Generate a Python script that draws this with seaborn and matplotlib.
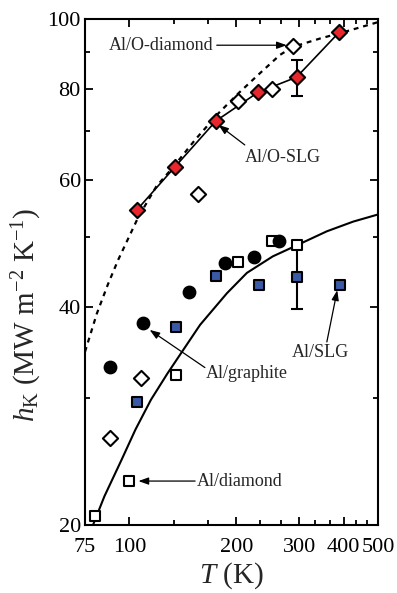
import numpy as np
import pandas as pd
import matplotlib
matplotlib.use("Agg")
import matplotlib.pyplot as plt
import seaborn as sns

# ---------------- data ----------------
# Al/O-SLG (red filled diamonds, connected)
t_o_slg = [105, 134, 175, 230, 295, 389]
h_o_slg = [54.5, 62.4, 72.3, 79.2, 83.1, 95.9]
err_o_slg_T = [295]
err_o_slg_h = [83.1]
err_o_slg_e = [4.7]

# Al/O-diamond (open diamonds)
t_o_dia = [88, 108, 156, 202, 251, 288]
h_o_dia = [26.4, 31.9, 57.3, 77.1, 80.0, 91.9]

# Al/graphite (black circles)
t_graph = [88, 109, 147, 186, 224, 264]
h_graph = [33.1, 38.0, 41.9, 46.0, 46.9, 49.4]

# Al/SLG (blue squares)
t_slg = [105, 135, 175, 231, 296, 391]
h_slg = [29.6, 37.5, 44.1, 42.9, 44.0, 42.9]
err_slg_T = [296]
err_slg_h = [44.0]
err_slg_e = [4.3]

# Al/diamond (open squares)
t_dia = [80, 100, 135, 202, 251, 296]
h_dia = [20.6, 23.0, 32.2, 46.2, 49.4, 48.7]

# dashed model curve
t_dash = [75, 81, 87, 93, 106, 119, 133, 153, 178, 194, 200, 230, 265, 288, 344, 400, 500]
h_dash = [34.7, 39.2, 43.0, 46.5, 53.3, 58.7, 62.5, 68.1, 74.1, 77.3, 78.5, 83.7, 89.2, 91.5, 94.0, 95.9, 99.0]

# solid model curve
t_solid = [79, 85, 95, 104, 115, 128, 140, 158, 188, 214, 253, 296, 359, 426, 500]
h_solid = [20.0, 21.9, 24.6, 27.1, 29.8, 32.4, 34.6, 37.8, 41.8, 44.6, 47.0, 48.7, 50.9, 52.5, 53.7]

x_major = [75, 100, 200, 300, 400, 500]
x_minor = [133.3, 166.7, 233.3, 266.7, 333.3, 366.7, 433.3, 466.7]
y_major = [20, 40, 60, 80, 100]
y_minor = [30, 50, 70, 90]

# ---------------- style ----------------
sns.set_theme(style="ticks")
plt.rcParams["font.family"] = ["Liberation Serif", "DejaVu Serif"]
plt.rcParams["mathtext.fontset"] = "custom"
plt.rcParams["mathtext.rm"] = "Liberation Serif"
plt.rcParams["mathtext.it"] = "Liberation Serif:italic"
plt.rcParams["mathtext.bf"] = "Liberation Serif:bold"

fig = plt.figure(figsize=(3.97, 5.93), dpi=100)
ax = fig.add_axes([85/397, 1-525/593, 293/397, 506/593])
ax.set_xscale("log")
ax.set_yscale("log")
ax.set_xlim(75, 500)
ax.set_ylim(20, 100)

# curves
sns.lineplot(x=t_dash, y=h_dash, ax=ax, color="black", lw=1.6, sort=False,
             estimator=None, linestyle=(0, (2.2, 2.2)), zorder=2)
sns.lineplot(x=t_solid, y=h_solid, ax=ax, color="black", lw=1.5, sort=False,
             estimator=None, zorder=2)

# error bars
ax.errorbar(err_o_slg_T, err_o_slg_h, yerr=err_o_slg_e, fmt="none", ecolor="black",
            elinewidth=1.5, capsize=4, capthick=1.5, zorder=3)
ax.errorbar(err_slg_T, err_slg_h, yerr=err_slg_e, fmt="none", ecolor="black",
            elinewidth=1.5, capsize=4, capthick=1.5, zorder=3)

# Al/O-SLG line
sns.lineplot(x=t_o_slg, y=h_o_slg, ax=ax, color="black", lw=1.2, sort=False,
             estimator=None, zorder=3)

# markers
sns.scatterplot(x=t_dia, y=h_dia, ax=ax, marker="s", s=55, color="white",
                edgecolor="black", linewidth=1.5, zorder=4)
sns.scatterplot(x=t_graph, y=h_graph, ax=ax, marker="o", s=80, color="black",
                edgecolor="black", linewidth=1.0, zorder=5)
sns.scatterplot(x=t_slg, y=h_slg, ax=ax, marker="s", s=55, color="#3a5aa8",
                edgecolor="black", linewidth=1.5, zorder=5)
sns.scatterplot(x=t_o_dia, y=h_o_dia, ax=ax, marker="D", s=60, color="white",
                edgecolor="black", linewidth=1.5, zorder=5)
sns.scatterplot(x=t_o_slg, y=h_o_slg, ax=ax, marker="D", s=60, color="#e8262b",
                edgecolor="black", linewidth=1.5, zorder=6)

# annotations
arrow = dict(arrowstyle="-|>,head_length=0.5,head_width=0.18", color="black", lw=0.9,
             shrinkA=0, shrinkB=0)
fs_ann = 13
ax.annotate("", xy=(277, 92.0), xytext=(176, 92.0), arrowprops=arrow)
ax.text(172, 92.0, "Al/O-diamond", ha="right", va="center", fontsize=fs_ann)

ax.annotate("", xy=(178, 71.4), xytext=(211, 67.0), arrowprops=arrow)
ax.text(270, 64.3, "Al/O-SLG", ha="center", va="center", fontsize=fs_ann)

ax.annotate("", xy=(384, 42.2), xytext=(359, 35.8), arrowprops=arrow)
ax.text(344, 34.6, "Al/SLG", ha="center", va="center", fontsize=fs_ann)

ax.annotate("", xy=(114, 37.2), xytext=(163, 33.0), arrowprops=arrow)
ax.text(214, 32.4, "Al/graphite", ha="center", va="center", fontsize=fs_ann)

ax.annotate("", xy=(106, 23.0), xytext=(153, 23.0), arrowprops=arrow)
ax.text(155, 23.0, "Al/diamond", ha="left", va="center", fontsize=fs_ann)

# ticks
ax.xaxis.set_major_locator(matplotlib.ticker.FixedLocator(x_major))
ax.xaxis.set_major_formatter(matplotlib.ticker.FixedFormatter([str(v) for v in x_major]))
ax.xaxis.set_minor_locator(matplotlib.ticker.FixedLocator(x_minor))
ax.xaxis.set_minor_formatter(matplotlib.ticker.NullFormatter())
ax.yaxis.set_major_locator(matplotlib.ticker.FixedLocator(y_major))
ax.yaxis.set_major_formatter(matplotlib.ticker.FixedFormatter([str(v) for v in y_major]))
ax.yaxis.set_minor_locator(matplotlib.ticker.FixedLocator(y_minor))
ax.yaxis.set_minor_formatter(matplotlib.ticker.NullFormatter())

ax.tick_params(which="both", direction="in", top=True, right=True, width=1.3,
               colors="black", labelsize=16)
ax.tick_params(axis="y", which="both", pad=3)
ax.tick_params(axis="x", which="both", pad=9.5)
ax.tick_params(which="major", length=6)
ax.tick_params(which="minor", length=3.8)
for sp in ax.spines.values():
    sp.set_linewidth(1.5)
    sp.set_color("black")
    sp.set_visible(True)

ax.set_xlabel(r"$T$ (K)", fontsize=21, labelpad=2)
ax.set_ylabel(r"$h_{\mathrm{K}}$ (MW m$^{-2}$ K$^{-1}$)", fontsize=21, labelpad=2)
ax.yaxis.set_label_coords(-0.14, 0.415)

fig.savefig("out.png", dpi=100)
